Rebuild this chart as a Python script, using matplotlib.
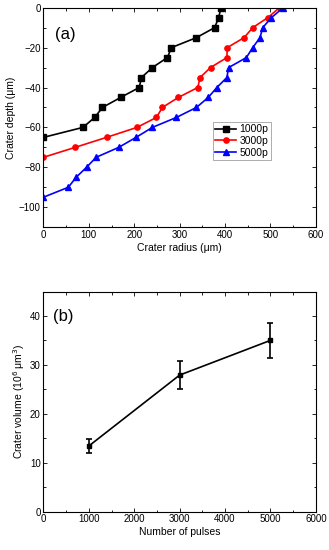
import matplotlib
matplotlib.use('Agg')
import matplotlib.pyplot as plt
from matplotlib.ticker import MultipleLocator

plt.rcParams['font.family'] = ['Liberation Sans', 'DejaVu Sans']

# crater profiles: radius (um) vs depth (um)
depth_1000 = [-65, -60, -55, -50, -45, -40, -35, -30, -25, -20, -15, -10, -5, 0]
radius_1000 = [0, 87, 113, 130, 170, 211, 216, 240, 273, 282, 337, 377, 386, 391]

depth_3000 = [-75, -70, -65, -60, -55, -50, -45, -40, -35, -30, -25, -20, -15, -10, -5, 0]
radius_3000 = [0, 70, 139, 206, 249, 262, 297, 340, 345, 368, 404, 405, 442, 461, 494, 520]

depth_5000 = [-95, -90, -85, -80, -75, -70, -65, -60, -55, -50, -45, -40, -35, -30,
              -25, -20, -15, -10, -5, 0]
radius_5000 = [0, 55, 72, 95, 116, 166, 204, 240, 293, 337, 363, 382, 404, 408,
               447, 461, 477, 483, 502, 528]

# crater volume vs number of pulses
pulses = [1000, 3000, 5000]
volume = [13.4, 27.9, 35.0]
volume_err = [1.4, 2.8, 3.5]

fig = plt.figure(figsize=(3.29, 5.5), dpi=100)
ax1 = fig.add_axes([0.132, 0.587, 0.828, 0.399])
ax2 = fig.add_axes([0.132, 0.070, 0.828, 0.400])

ax1.plot(radius_1000, depth_1000, '-s', color='black', lw=1.2, ms=3.8, label='1000p')
ax1.plot(radius_3000, depth_3000, '-o', color='red', lw=1.2, ms=3.8, label='3000p')
ax1.plot(radius_5000, depth_5000, '-^', color='blue', lw=1.2, ms=3.8, label='5000p')
ax1.set_xlim(0, 600)
ax1.set_ylim(-110, 0)
ax1.xaxis.set_major_locator(MultipleLocator(100))
ax1.xaxis.set_minor_locator(MultipleLocator(50))
ax1.yaxis.set_major_locator(MultipleLocator(20))
ax1.yaxis.set_minor_locator(MultipleLocator(10))
ax1.set_xlabel('Crater radius (\u03bcm)', fontsize=7.5, labelpad=2)
ax1.set_ylabel('Crater depth (\u03bcm)', fontsize=7.5, labelpad=2)
ax1.text(0.043, 0.876, '(a)', transform=ax1.transAxes, fontsize=12, va='center')
leg = ax1.legend(loc='upper left', bbox_to_anchor=(0.622, 0.48), fontsize=7.5,
                 frameon=True, fancybox=False, edgecolor='#888888',
                 handlelength=2.0, borderpad=0.25, labelspacing=0.15,
                 handletextpad=0.3, borderaxespad=0)
leg.get_frame().set_linewidth(0.6)

ax2.errorbar(pulses, volume, yerr=volume_err, fmt='-s', color='black', lw=1.2,
             ms=3.5, capsize=2.5, elinewidth=1.2, capthick=1.2)
ax2.set_xlim(0, 6000)
ax2.set_ylim(0, 45)
ax2.xaxis.set_major_locator(MultipleLocator(1000))
ax2.xaxis.set_minor_locator(MultipleLocator(500))
ax2.yaxis.set_major_locator(MultipleLocator(10))
ax2.yaxis.set_minor_locator(MultipleLocator(5))
ax2.set_xlabel('Number of pulses', fontsize=7.5, labelpad=2)
ax2.set_ylabel('Crater volume (10$^6$ \u03bcm$^3$)', fontsize=7.5, labelpad=2)
ax2.text(0.036, 0.887, '(b)', transform=ax2.transAxes, fontsize=12, va='center')

for ax in (ax1, ax2):
    ax.tick_params(which='both', direction='in', top=True, right=True,
                   labelsize=7, width=0.6, pad=2)
    ax.tick_params(which='major', length=3)
    ax.tick_params(which='minor', length=1.8)
    for sp in ax.spines.values():
        sp.set_linewidth(0.8)

fig.savefig('out.png', dpi=100)
